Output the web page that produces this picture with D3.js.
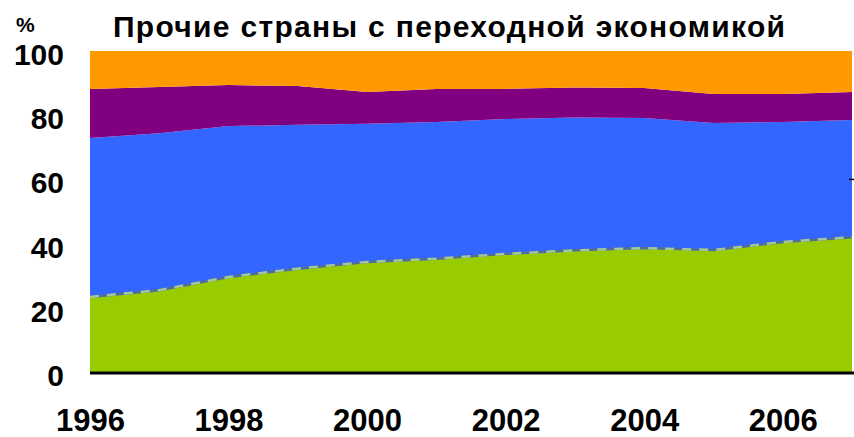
<!DOCTYPE html>
<html>
<head>
<meta charset="utf-8">
<script src="https://cdn.jsdelivr.net/npm/d3@7"></script>
<style>
  html, body { margin: 0; padding: 0; background: #fff; }
  svg { display: block; font-family: "Liberation Sans", Arial, sans-serif; }
</style>
</head>
<body>
<svg id="chart" width="854" height="437"></svg>
<script>
// Years on the x axis
const years = [1996, 1997, 1998, 1999, 2000, 2001, 2002, 2003, 2004, 2005, 2006, 2007];

// Shares of each group, per cent (stacked bottom to top)
const greenShare  = [23.4, 25.5, 29.6, 32.2, 34.3, 35.3, 36.8, 37.9, 38.6, 38.0, 40.5, 42.0];
const blueShare   = [49.5, 48.9, 47.0, 44.8, 43.0, 42.6, 42.0, 41.4, 40.5, 39.6, 37.4, 36.5];
const purpleShare = [15.3, 14.4, 12.8, 12.1,  9.9, 10.3,  9.4,  9.3,  9.4,  9.0,  8.7,  8.7];
const orangeShare = [11.8, 11.2, 10.6, 10.9, 12.8, 11.8, 11.8, 11.4, 11.5, 13.4, 13.4, 12.8];

const seriesKeys = ["green", "blue", "purple", "orange"];
const seriesColors = ["#99cc00", "#3366ff", "#800080", "#ff9900"];

const yTicks = [0, 20, 40, 60, 80, 100];
const xTicks = [1996, 1998, 2000, 2002, 2004, 2006];

const titleText = "Прочие страны с переходной экономикой";
const unitText = "%";

const rows = years.map((yr, i) => ({
  year: yr,
  green: greenShare[i],
  blue: blueShare[i],
  purple: purpleShare[i],
  orange: orangeShare[i]
}));

const svg = d3.select("#chart");

const x = d3.scaleLinear().domain([1996, 2007]).range([90, 852]);
const y = d3.scaleLinear().domain([0, 100]).range([372, 51]);

const stacked = d3.stack().keys(seriesKeys)(rows);

const area = d3.area()
  .x(d => x(d.data.year))
  .y0(d => y(d[0]))
  .y1(d => y(d[1]));

svg.append("g")
  .selectAll("path")
  .data(stacked)
  .join("path")
  .attr("d", area)
  .attr("fill", (d, i) => seriesColors[i]);

// Dashed border along the top of the lowest band
const edge = d3.line()
  .x(d => x(d.data.year))
  .y(d => y(d[1]));

svg.append("path")
  .datum(stacked[0])
  .attr("d", edge)
  .attr("fill", "none")
  .attr("stroke", "#4f6f9a")
  .attr("stroke-width", 2.5);

svg.append("path")
  .datum(stacked[0])
  .attr("d", edge)
  .attr("fill", "none")
  .attr("stroke", "#a6c898")
  .attr("stroke-width", 2.5)
  .attr("stroke-dasharray", "9,8");

// Baseline
svg.append("line")
  .attr("x1", x(1996)).attr("x2", 854)
  .attr("y1", y(0) + 1).attr("y2", y(0) + 1)
  .attr("stroke", "#000")
  .attr("stroke-width", 3);

// Small tick on the right edge
svg.append("line")
  .attr("x1", 849).attr("x2", 854)
  .attr("y1", y(60)).attr("y2", y(60))
  .attr("stroke", "#000")
  .attr("stroke-width", 1.5);

// Y axis
const yAxis = svg.append("g")
  .attr("transform", `translate(${x(1996)},0)`)
  .call(d3.axisLeft(y).tickValues(yTicks).tickSize(0).tickPadding(26));
yAxis.select(".domain").remove();
yAxis.selectAll("text")
  .attr("dy", "0.45em")
  .attr("fill", "#000")
  .style("font-size", "30px")
  .style("font-weight", "bold")
  .style("font-family", "'Liberation Sans', Arial, sans-serif");

// X axis
const xAxis = svg.append("g")
  .attr("transform", `translate(0,${y(0)})`)
  .call(d3.axisBottom(x).tickValues(xTicks).tickFormat(d3.format("d")).tickSize(0).tickPadding(37));
xAxis.select(".domain").remove();
xAxis.selectAll("text")
  .attr("fill", "#000")
  .style("font-size", "31px")
  .style("font-weight", "bold")
  .style("font-family", "'Liberation Sans', Arial, sans-serif");

// Title and unit
svg.append("text")
  .attr("x", 113)
  .attr("y", 37)
  .attr("textLength", 672)
  .attr("lengthAdjust", "spacing")
  .style("font-size", "30px")
  .style("font-weight", "bold")
  .text(titleText);

svg.append("text")
  .attr("x", 16)
  .attr("y", 32)
  .style("font-size", "21px")
  .style("font-weight", "bold")
  .text(unitText);
</script>
</body>
</html>
